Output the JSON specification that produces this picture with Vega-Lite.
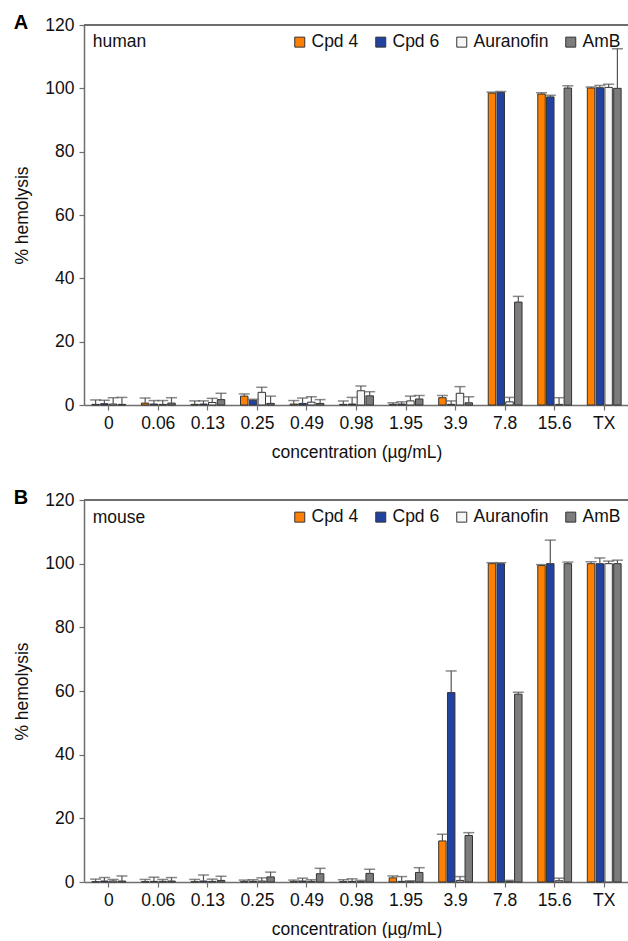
{
  "$schema": "https://vega.github.io/schema/vega-lite/v6.json",
  "padding": {"left": 13, "top": 13, "right": 0, "bottom": 0},
  "background": "white",
  "config": {
    "font": "Liberation Sans",
    "view": {"stroke": null},
    "axis": {"domainColor": "#6e6e6e", "tickColor": "#6e6e6e", "domainWidth": 1.5, "tickWidth": 1.2, "labelColor": "#111", "titleColor": "#111", "labelFontSize": 17.5, "titleFontSize": 17.5, "titleFontWeight": "normal", "grid": false, "tickSize": 5},
    "legend": {"orient": "top-right", "direction": "horizontal", "offset": 8, "labelFontSize": 17.5, "labelColor": "#111", "symbolType": "square", "symbolSize": 100, "symbolStrokeColor": "#333", "symbolStrokeWidth": 1, "labelOffset": 3, "columnPadding": 13, "padding": 0}
  },
  "data": {"values": [
    {"sp":"human","conc":"0","series":"Cpd 4","value":0.2,"upper":1.6},
    {"sp":"human","conc":"0","series":"Cpd 6","value":0.4,"upper":1.5},
    {"sp":"human","conc":"0","series":"Auranofin","value":0.3,"upper":2.3},
    {"sp":"human","conc":"0","series":"AmB","value":0.2,"upper":2.4},
    {"sp":"human","conc":"0.06","series":"Cpd 4","value":0.6,"upper":2.2},
    {"sp":"human","conc":"0.06","series":"Cpd 6","value":0.3,"upper":1.4},
    {"sp":"human","conc":"0.06","series":"Auranofin","value":0.2,"upper":1.4},
    {"sp":"human","conc":"0.06","series":"AmB","value":0.6,"upper":2.3},
    {"sp":"human","conc":"0.13","series":"Cpd 4","value":0.2,"upper":1.3},
    {"sp":"human","conc":"0.13","series":"Cpd 6","value":0.3,"upper":1.3},
    {"sp":"human","conc":"0.13","series":"Auranofin","value":0.8,"upper":2.1},
    {"sp":"human","conc":"0.13","series":"AmB","value":1.7,"upper":3.7},
    {"sp":"human","conc":"0.25","series":"Cpd 4","value":2.8,"upper":3.5},
    {"sp":"human","conc":"0.25","series":"Cpd 6","value":1.5,"upper":1.8},
    {"sp":"human","conc":"0.25","series":"Auranofin","value":4.0,"upper":5.6},
    {"sp":"human","conc":"0.25","series":"AmB","value":0.5,"upper":2.8},
    {"sp":"human","conc":"0.49","series":"Cpd 4","value":0.3,"upper":1.4},
    {"sp":"human","conc":"0.49","series":"Cpd 6","value":0.5,"upper":2.2},
    {"sp":"human","conc":"0.49","series":"Auranofin","value":0.9,"upper":2.6},
    {"sp":"human","conc":"0.49","series":"AmB","value":0.5,"upper":1.7},
    {"sp":"human","conc":"0.98","series":"Cpd 4","value":0.2,"upper":1.3},
    {"sp":"human","conc":"0.98","series":"Cpd 6","value":0.3,"upper":2.4},
    {"sp":"human","conc":"0.98","series":"Auranofin","value":4.5,"upper":6.0},
    {"sp":"human","conc":"0.98","series":"AmB","value":2.9,"upper":4.2},
    {"sp":"human","conc":"1.95","series":"Cpd 4","value":0.2,"upper":0.7},
    {"sp":"human","conc":"1.95","series":"Cpd 6","value":0.3,"upper":1.0},
    {"sp":"human","conc":"1.95","series":"Auranofin","value":1.3,"upper":2.8},
    {"sp":"human","conc":"1.95","series":"AmB","value":1.9,"upper":3.0},
    {"sp":"human","conc":"3.9","series":"Cpd 4","value":2.3,"upper":3.0},
    {"sp":"human","conc":"3.9","series":"Cpd 6","value":0.2,"upper":1.3},
    {"sp":"human","conc":"3.9","series":"Auranofin","value":3.7,"upper":5.8},
    {"sp":"human","conc":"3.9","series":"AmB","value":0.7,"upper":2.6},
    {"sp":"human","conc":"7.8","series":"Cpd 4","value":98.5,"upper":98.8},
    {"sp":"human","conc":"7.8","series":"Cpd 6","value":98.7,"upper":99.0},
    {"sp":"human","conc":"7.8","series":"Auranofin","value":1.0,"upper":2.4},
    {"sp":"human","conc":"7.8","series":"AmB","value":32.5,"upper":34.3},
    {"sp":"human","conc":"15.6","series":"Cpd 4","value":98.2,"upper":98.6},
    {"sp":"human","conc":"15.6","series":"Cpd 6","value":97.3,"upper":97.8},
    {"sp":"human","conc":"15.6","series":"Auranofin","value":0.2,"upper":2.3},
    {"sp":"human","conc":"15.6","series":"AmB","value":100.1,"upper":100.8},
    {"sp":"human","conc":"TX","series":"Cpd 4","value":100.1,"upper":100.4},
    {"sp":"human","conc":"TX","series":"Cpd 6","value":100.2,"upper":100.9},
    {"sp":"human","conc":"TX","series":"Auranofin","value":100.3,"upper":101.3},
    {"sp":"human","conc":"TX","series":"AmB","value":100.0,"upper":112.5},
    {"sp":"mouse","conc":"0","series":"Cpd 4","value":0.1,"upper":0.9},
    {"sp":"mouse","conc":"0","series":"Cpd 6","value":0.3,"upper":1.4},
    {"sp":"mouse","conc":"0","series":"Auranofin","value":0.3,"upper":0.8},
    {"sp":"mouse","conc":"0","series":"AmB","value":0.3,"upper":1.9},
    {"sp":"mouse","conc":"0.06","series":"Cpd 4","value":0.1,"upper":0.8},
    {"sp":"mouse","conc":"0.06","series":"Cpd 6","value":0.2,"upper":1.5},
    {"sp":"mouse","conc":"0.06","series":"Auranofin","value":0.2,"upper":0.8},
    {"sp":"mouse","conc":"0.06","series":"AmB","value":0.3,"upper":1.4},
    {"sp":"mouse","conc":"0.13","series":"Cpd 4","value":0.1,"upper":0.8},
    {"sp":"mouse","conc":"0.13","series":"Cpd 6","value":0.3,"upper":2.2},
    {"sp":"mouse","conc":"0.13","series":"Auranofin","value":0.2,"upper":0.9},
    {"sp":"mouse","conc":"0.13","series":"AmB","value":0.5,"upper":1.8},
    {"sp":"mouse","conc":"0.25","series":"Cpd 4","value":0.1,"upper":0.6},
    {"sp":"mouse","conc":"0.25","series":"Cpd 6","value":0.2,"upper":0.7},
    {"sp":"mouse","conc":"0.25","series":"Auranofin","value":0.3,"upper":1.3},
    {"sp":"mouse","conc":"0.25","series":"AmB","value":1.6,"upper":3.1},
    {"sp":"mouse","conc":"0.49","series":"Cpd 4","value":0.1,"upper":0.6},
    {"sp":"mouse","conc":"0.49","series":"Cpd 6","value":0.3,"upper":1.2},
    {"sp":"mouse","conc":"0.49","series":"Auranofin","value":0.2,"upper":0.7},
    {"sp":"mouse","conc":"0.49","series":"AmB","value":2.6,"upper":4.3},
    {"sp":"mouse","conc":"0.98","series":"Cpd 4","value":0.1,"upper":0.7},
    {"sp":"mouse","conc":"0.98","series":"Cpd 6","value":0.2,"upper":1.0},
    {"sp":"mouse","conc":"0.98","series":"Auranofin","value":0.1,"upper":0.5},
    {"sp":"mouse","conc":"0.98","series":"AmB","value":2.7,"upper":4.0},
    {"sp":"mouse","conc":"1.95","series":"Cpd 4","value":1.3,"upper":1.9},
    {"sp":"mouse","conc":"1.95","series":"Cpd 6","value":0.2,"upper":1.7},
    {"sp":"mouse","conc":"1.95","series":"Auranofin","value":0.1,"upper":0.4},
    {"sp":"mouse","conc":"1.95","series":"AmB","value":3.0,"upper":4.5},
    {"sp":"mouse","conc":"3.9","series":"Cpd 4","value":12.9,"upper":15.0},
    {"sp":"mouse","conc":"3.9","series":"Cpd 6","value":59.5,"upper":66.3},
    {"sp":"mouse","conc":"3.9","series":"Auranofin","value":0.5,"upper":1.7},
    {"sp":"mouse","conc":"3.9","series":"AmB","value":14.6,"upper":15.5},
    {"sp":"mouse","conc":"7.8","series":"Cpd 4","value":100.0,"upper":100.3},
    {"sp":"mouse","conc":"7.8","series":"Cpd 6","value":100.0,"upper":100.3},
    {"sp":"mouse","conc":"7.8","series":"Auranofin","value":0.2,"upper":0.5},
    {"sp":"mouse","conc":"7.8","series":"AmB","value":59.0,"upper":59.6},
    {"sp":"mouse","conc":"15.6","series":"Cpd 4","value":99.4,"upper":99.7},
    {"sp":"mouse","conc":"15.6","series":"Cpd 6","value":100.0,"upper":107.4},
    {"sp":"mouse","conc":"15.6","series":"Auranofin","value":0.4,"upper":1.2},
    {"sp":"mouse","conc":"15.6","series":"AmB","value":100.0,"upper":100.5},
    {"sp":"mouse","conc":"TX","series":"Cpd 4","value":100.0,"upper":100.6},
    {"sp":"mouse","conc":"TX","series":"Cpd 6","value":100.0,"upper":101.8},
    {"sp":"mouse","conc":"TX","series":"Auranofin","value":100.0,"upper":100.8},
    {"sp":"mouse","conc":"TX","series":"AmB","value":100.0,"upper":101.1}
  ]},
  "resolve": {"scale": {"fill": "independent"}, "legend": {"fill": "independent"}},
  "spacing": 27,
  "vconcat": [
    {
      "width": 545, "height": 380,
      "title": {"text": "A", "anchor": "start", "frame": "bounds", "fontSize": 20, "fontWeight": "bold", "color": "#000", "offset": -17},
      "transform": [{"filter": "datum.sp === 'human'"}],
      "encoding": {
        "x": {"field": "conc", "type": "nominal", "scale": {"domain": ["0","0.06","0.13","0.25","0.49","0.98","1.95","3.9","7.8","15.6","TX"], "paddingInner": 0.3, "paddingOuter": 0.15}, "axis": {"title": "concentration (µg/mL)", "labelAngle": 0, "labelPadding": 4, "titlePadding": 12}},
        "xOffset": {"field": "series", "type": "nominal", "scale": {"domain": ["Cpd 4","Cpd 6","Auranofin","AmB"], "paddingInner": 0.15, "paddingOuter": 0.05}}
      },
      "layer": [
        {"mark": {"type": "rule", "color": "#6e6e6e", "strokeWidth": 1.5}, "encoding": {"x": null, "xOffset": null, "y": {"datum": 120, "type": "quantitative"}}},
        {"mark": {"type": "bar", "stroke": "#333", "strokeWidth": 1},
         "encoding": {
           "y": {"field": "value", "type": "quantitative", "scale": {"domain": [0, 120], "nice": false}, "axis": {"title": "% hemolysis", "values": [0,20,40,60,80,100,120], "labelPadding": 5, "titlePadding": 13}},
           "fill": {"field": "series", "type": "nominal", "scale": {"domain": ["Cpd 4","Cpd 6","Auranofin","AmB"], "range": ["#ff8000","#2142a0","#f6f6f6","#7c7c7c"]}, "legend": {"title": null}}
         }},
        {"mark": {"type": "rule", "color": "#555", "strokeWidth": 1.2}, "encoding": {"y": {"field": "value", "type": "quantitative"}, "y2": {"field": "upper"}}},
        {"mark": {"type": "tick", "color": "#555", "size": 11, "thickness": 1.5}, "encoding": {"y": {"field": "upper", "type": "quantitative"}}},
        {"data": {"values": [{"sp": "human", "label": "human"}]},
         "mark": {"type": "text", "align": "left", "baseline": "middle", "fontSize": 17.5, "color": "#111", "dx": -16},
         "encoding": {"x": {"datum": "0", "type": "nominal"}, "xOffset": null, "y": {"datum": 114.5, "type": "quantitative"}, "text": {"field": "label"}}}
      ]
    },
    {
      "width": 545, "height": 382,
      "title": {"text": "B", "anchor": "start", "frame": "bounds", "fontSize": 20, "fontWeight": "bold", "color": "#000", "offset": -17},
      "transform": [{"filter": "datum.sp === 'mouse'"}],
      "encoding": {
        "x": {"field": "conc", "type": "nominal", "scale": {"domain": ["0","0.06","0.13","0.25","0.49","0.98","1.95","3.9","7.8","15.6","TX"], "paddingInner": 0.3, "paddingOuter": 0.15}, "axis": {"title": "concentration (µg/mL)", "labelAngle": 0, "labelPadding": 4, "titlePadding": 12}},
        "xOffset": {"field": "series", "type": "nominal", "scale": {"domain": ["Cpd 4","Cpd 6","Auranofin","AmB"], "paddingInner": 0.15, "paddingOuter": 0.05}}
      },
      "layer": [
        {"mark": {"type": "rule", "color": "#6e6e6e", "strokeWidth": 1.5}, "encoding": {"x": null, "xOffset": null, "y": {"datum": 120, "type": "quantitative"}}},
        {"mark": {"type": "bar", "stroke": "#333", "strokeWidth": 1},
         "encoding": {
           "y": {"field": "value", "type": "quantitative", "scale": {"domain": [0, 120], "nice": false}, "axis": {"title": "% hemolysis", "values": [0,20,40,60,80,100,120], "labelPadding": 5, "titlePadding": 13}},
           "fill": {"field": "series", "type": "nominal", "scale": {"domain": ["Cpd 4","Cpd 6","Auranofin","AmB"], "range": ["#ff8000","#2142a0","#f6f6f6","#7c7c7c"]}, "legend": {"title": null}}
         }},
        {"mark": {"type": "rule", "color": "#555", "strokeWidth": 1.2}, "encoding": {"y": {"field": "value", "type": "quantitative"}, "y2": {"field": "upper"}}},
        {"mark": {"type": "tick", "color": "#555", "size": 11, "thickness": 1.5}, "encoding": {"y": {"field": "upper", "type": "quantitative"}}},
        {"data": {"values": [{"sp": "mouse", "label": "mouse"}]},
         "mark": {"type": "text", "align": "left", "baseline": "middle", "fontSize": 17.5, "color": "#111", "dx": -16},
         "encoding": {"x": {"datum": "0", "type": "nominal"}, "xOffset": null, "y": {"datum": 114.5, "type": "quantitative"}, "text": {"field": "label"}}}
      ]
    }
  ]
}
